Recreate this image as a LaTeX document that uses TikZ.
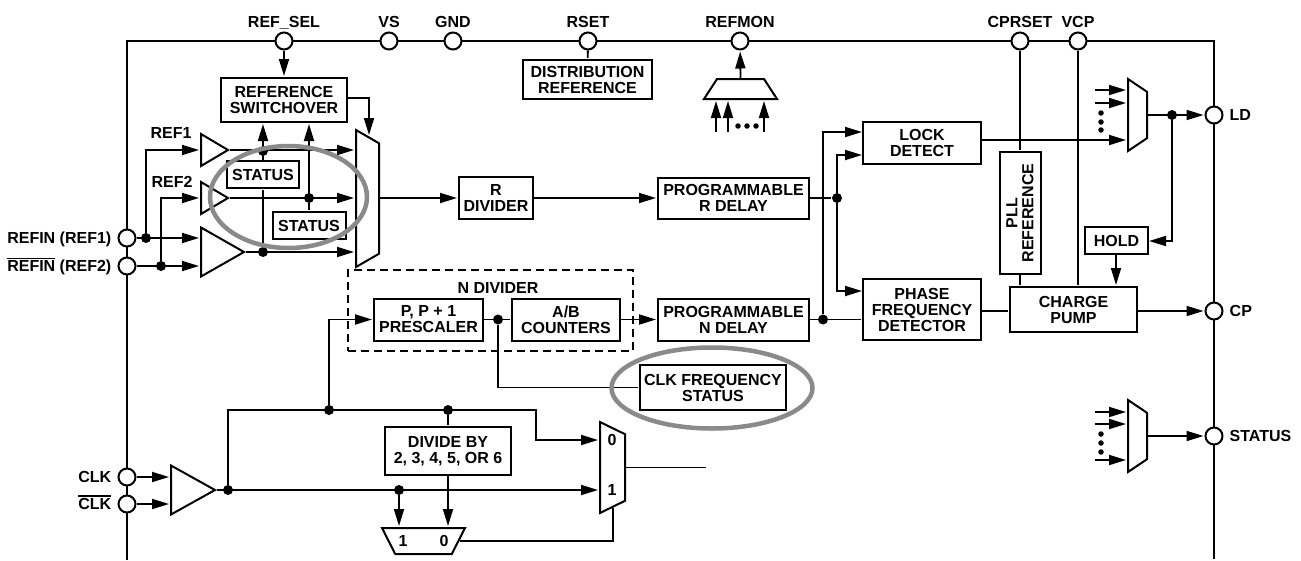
\documentclass[tikz,border=0pt]{standalone}
\usepackage{fontspec}
\setmainfont{Liberation Sans}
\usetikzlibrary{arrows.meta, positioning, shapes.geometric, calc}

\definecolor{ringgray}{HTML}{8A8A8A}
\newcommand{\barred}[1]{\vbox{\hrule height 1.2pt \kern 2pt \hbox{#1}}}

\tikzset{
  boxfont/.style={font=\bfseries\fontsize{16}{16}\selectfont},
  box/.style={draw, line width=2pt, boxfont, align=center, inner sep=0pt},
  txt/.style={boxfont, inner sep=0pt, text height=11.5pt, text depth=0pt},
  pad/.style={draw, circle, fill=white, line width=2pt, minimum size=17pt, inner sep=0pt},
  dot/.style={circle, fill=black, minimum size=10pt, inner sep=0pt},
  sdot/.style={circle, fill=black, minimum size=5.5pt, inner sep=0pt},
  amp/.style={draw, line width=2pt, isosceles triangle, isosceles triangle stretches,
              isosceles triangle apex angle=60, anchor=west, inner sep=0pt},
  mux/.style={draw, line width=2pt, trapezium, trapezium stretches body, inner sep=0pt},
  ring/.style={draw=ringgray, ellipse, line width=4.5pt, inner sep=0pt},
  wire/.style={line width=1.8pt}
}

\begin{document}
\begin{tikzpicture}[
    x=1pt, y=-1pt, >={Stealth[length=17pt, width=10pt, inset=0pt]},
    node distance=6pt, shorten >=1pt
  ]
  \useasboundingbox (0,0) rectangle (1301,560);

  % Chip outline
  \draw[line width=2.8pt] (127,560) -- (127,41) -- (1214,41) -- (1214,560);

  % Pads
  \foreach \n/\x in {pSel/284, pVs/389, pGnd/453, pRset/588, pMon/740, pCpr/1020, pVcp/1078} {
    \node[pad] (\n) at (\x,41) {};
  }
  \foreach \n/\y in {pRefA/238, pRefB/266, pClkA/477, pClkB/504} {
    \node[pad] (\n) at (127,\y) {};
  }
  \foreach \n/\y in {pLd/115, pCp/311, pStat/436} {
    \node[pad] (\n) at (1214,\y) {};
  }

  % Pad labels
  \node[txt, above=4pt of pSel] (lSel) {REF\_SEL};
  \node[txt, above=4pt of pVs] (lVs) {VS};
  \node[txt, above=4pt of pGnd] (lGnd) {GND};
  \node[txt, above=4pt of pRset] (lRset) {RSET};
  \node[txt, above=4pt of pMon] (lMon) {REFMON};
  \node[txt, above=4pt of pCpr] (lCpr) {CPRSET};
  \node[txt, above=4pt of pVcp] (lVcp) {VCP};
  \node[txt, left=6pt of pRefA] (lRefA) {REFIN (REF1)};
  \node[txt, left=6pt of pRefB] (lRefB) {\barred{REFIN} (REF2)};
  \node[txt, left=6pt of pClkA] (lClkA) {CLK};
  \node[txt, left=6pt of pClkB] (lClkB) {\barred{CLK}};
  \node[txt, right=6pt of pLd] (lLd) {LD};
  \node[txt, right=6pt of pCp] (lCp) {CP};
  \node[txt, right=6pt of pStat] (lStat) {STATUS};
  \node[txt] (lRefOne) at (171,133) {REF1};
  \node[txt] (lRefTwo) at (172,182) {REF2};

  % N divider frame
  \node[draw, dashed, dash pattern=on 8pt off 5pt, line width=1.8pt, minimum width=285pt,
        minimum height=81pt] (fNdiv) at (490.5,310.5) {};
  \node[txt] (lNdiv) at (498,288) {N DIVIDER};

  % Blocks
  \node[box, minimum width=126pt, minimum height=44pt] (bSwitch) at (284,100) {REFERENCE\\SWITCHOVER};
  \node[box, minimum width=72pt, minimum height=27pt] (bStatA) at (263,174.5) {STATUS};
  \node[box, minimum width=73pt, minimum height=27pt] (bStatB) at (309,225.5) {STATUS};
  \node[box, minimum width=129pt, minimum height=39pt] (bDist) at (587.5,79.5) {DISTRIBUTION\\REFERENCE};
  \node[box, minimum width=74pt, minimum height=42pt] (bRdiv) at (496,198) {R\\DIVIDER};
  \node[box, minimum width=151pt, minimum height=41pt] (bRdel) at (733.5,198) {PROGRAMMABLE\\R DELAY};
  \node[box, minimum width=151pt, minimum height=42pt] (bNdel) at (733.5,319.5) {PROGRAMMABLE\\N DELAY};
  \node[box, minimum width=109pt, minimum height=42pt] (bPres) at (428.5,319.5) {P, P + 1\\PRESCALER};
  \node[box, minimum width=108pt, minimum height=42pt] (bCnt) at (566,319.5) {A/B\\COUNTERS};
  \node[box, minimum width=146pt, minimum height=45pt] (bFreq) at (713,387.5) {CLK FREQUENCY\\STATUS};
  \node[box, minimum width=126pt, minimum height=48pt] (bDiv) at (448,451) {DIVIDE BY\\2, 3, 4, 5, OR 6};
  \node[box, minimum width=118pt, minimum height=42pt] (bLock) at (922,143) {LOCK\\DETECT};
  \node[box, minimum width=118pt, minimum height=61pt] (bPfd) at (922,309.5) {PHASE\\FREQUENCY\\DETECTOR};
  \node[box, rotate=90, minimum width=122pt, minimum height=41pt] (bPll) at (1020,213) {PLL\\REFERENCE};
  \node[box, minimum width=127pt, minimum height=45pt] (bCp) at (1073.5,309.5) {CHARGE\\PUMP};
  \node[box, minimum width=63pt, minimum height=27pt] (bHold) at (1116.5,240.5) {HOLD};

  % Input buffers
  \node[amp, minimum width=32pt, minimum height=27pt] (ampA) at (200,150) {};
  \node[amp, minimum width=32pt, minimum height=27pt] (ampB) at (200,198) {};
  \node[amp, minimum width=49pt, minimum height=43pt] (ampC) at (200,252) {};
  \node[amp, minimum width=49pt, minimum height=44pt] (ampD) at (170,490) {};

  % Multiplexers
  \node[mux, rotate=-90, trapezium left angle=60, trapezium right angle=60,
        minimum width=137pt, inner ysep=11.5pt] (muxM) at (367.5,198.5) {};
  \node[mux, trapezium left angle=57, trapezium right angle=57,
        minimum width=73pt, inner ysep=10pt] (muxR) at (740.5,89) {};
  \node[mux, rotate=-90, trapezium left angle=56, trapezium right angle=56,
        minimum width=72pt, inner ysep=9.5pt] (muxL) at (1137.5,115) {};
  \node[mux, rotate=-90, trapezium left angle=56, trapezium right angle=56,
        minimum width=72pt, inner ysep=9.5pt] (muxT) at (1137.5,436) {};
  \node[mux, rotate=-90, trapezium left angle=64, trapezium right angle=64,
        minimum width=91pt, inner ysep=12.5pt] (muxO) at (612.5,467.5) {};
  \node[mux, rotate=180, trapezium left angle=63, trapezium right angle=63,
        minimum width=83pt, inner ysep=13pt] (muxS) at (423.5,541) {};
  \node[txt] (lO0) at (612,440) {0};
  \node[txt] (lO1) at (612,490) {1};
  \node[txt] (lS1) at (403,541) {1};
  \node[txt] (lS0) at (444,541) {0};

  % Junctions
  \node[dot] (dRefA) at (146,238) {};
  \node[dot] (dRefB) at (161,266) {};
  \node[dot] (dAmpC) at (263,252) {};
  \node[dot] (dAmpA) at (263,151) {};
  \node[dot] (dAmpB) at (309,198) {};
  \node[dot] (dClk) at (228,490) {};
  \node[dot] (dUp) at (329,410) {};
  \node[dot] (dDiv) at (448,410) {};
  \node[dot] (dSel) at (399,490) {};
  \node[dot] (dFreq) at (498,319.5) {};
  \node[dot] (dN) at (823,319.5) {};
  \node[dot] (dR) at (837,198) {};
  \node[dot] (dLd) at (1172,115) {};

  % Free ends
  \coordinate (cSwIn) at (369,136);
  \coordinate (cSwOut) at (347,98);
  \coordinate (cTop) at (536,410);
  \coordinate (cMuxA) at (536,440);
  \coordinate (cOutEnd) at (707,467.5);
  \coordinate (cSelIn) at (613,507);
  \coordinate (cLockA) at (863,132);
  \coordinate (cLockB) at (863,155);
  \coordinate (cPfdA) at (863,291);
  \coordinate (cLockOut) at (981,140);
  \coordinate (cHold) at (1148,241);
  \coordinate (cPfdOut) at (981,311);
  \coordinate (cCpOut) at (1137,311);
  \coordinate (cHoldDn) at (1116,254);

  % Reference path
  \draw[wire, ->] (pSel) -- (bSwitch);
  \draw[wire, ->] (cSwOut) -| (cSwIn);
  \draw[wire, ->] (dRefA) |- (ampA.west);
  \draw[wire, ->] (dRefB) |- (ampB.west);
  \draw[wire, ->] (pRefA) -- (pRefA -| ampC.west);
  \draw[wire, ->] (pRefB) -- (pRefB -| ampC.west);
  \draw[wire, ->] (ampA.apex) -- (ampA.apex -| muxM.south);
  \draw[wire, ->] (ampB.apex) -- (ampB.apex -| muxM.south);
  \draw[wire, ->] (ampC.apex) -- (ampC.apex -| muxM.south);
  \draw[wire] (dAmpC) -- (bStatA);
  \draw[wire, ->] (bStatA.north) -- (bStatA.north |- bSwitch.south);
  \draw[wire, ->] (dAmpB) -- (dAmpB |- bSwitch.south);
  \draw[wire] (dAmpB) -- (bStatB);
  \draw[wire, ->] (muxM.north |- bRdiv) -- (bRdiv);
  \draw[wire, ->] (bRdiv) -- (bRdel);
  \draw[wire] (pRset) -- (bDist);
  \draw[wire, ->] (muxR.north) -- (pMon);
  \foreach \n/\x in {mA/716, mB/728, mC/764} {
    \coordinate (\n) at (\x,132);
    \draw[wire, ->] (\n) -- (\n |- muxR.south);
  }
  \foreach \n/\x in {mD/738, mE/747, mF/756} {
    \node[sdot] (\n) at (\x,126) {};
  }

  % Clock path
  \draw[wire, ->] (pClkA) -- (pClkA -| ampD.west);
  \draw[wire, ->] (pClkB) -- (pClkB -| ampD.west);
  \draw[wire, ->] (ampD.apex) -- (ampD.apex -| muxO.south);
  \draw[wire, ->] (dClk) |- (cTop) -- (cMuxA) -- (cMuxA -| muxO.south);
  \draw[wire, ->] (dUp) |- (bPres);
  \draw[wire] (dDiv) -- (bDiv);
  \draw[wire, ->] (bDiv) -- (bDiv |- muxS.south);
  \draw[wire, ->] (dSel) -- (dSel |- muxS.south);
  \draw[wire] (muxS.west) -| (cSelIn);
  \draw[wire] (muxO.north) -- (cOutEnd);
  \draw[wire] (bPres) -- (bCnt);
  \draw[wire, ->] (bCnt) -- (bNdel);
  \draw[wire] (dFreq) |- (bFreq);

  % Phase detector and outputs
  \draw[wire] (bNdel) -- (dN) -- (dN -| bPfd.west);
  \draw[wire, ->] (dN) |- (cLockA);
  \draw[wire] (bRdel) -- (dR);
  \draw[wire, ->] (dR) |- (cLockB);
  \draw[wire, ->] (dR) |- (cPfdA);
  \draw[wire] (cPfdOut) -- (cPfdOut -| bCp.west);
  \draw[wire] (pCpr) -- (bPll.east);
  \draw[wire] (bPll.west) -- (bPll.west |- bCp.north);
  \draw[wire] (pVcp) -- (pVcp |- bCp.north);
  \draw[wire, ->] (cLockOut) -- (cLockOut -| muxL.south);
  \draw[wire, ->] (muxL.north) -- (pLd);
  \draw[wire, ->] (dLd) |- (cHold);
  \draw[wire, ->] (cHoldDn) -- (cHoldDn |- bCp.north);
  \draw[wire, ->] (cCpOut) -- (pCp);
  \draw[wire, ->] (muxT.north) -- (pStat);

  % Stub inputs of the output muxes
  \foreach \n/\y in {sA/90, sB/103, sC/412, sD/424, sE/460} {
    \coordinate (\n) at (1095,\y);
    \draw[wire, ->] (\n) -- (\n -| muxL.south);
  }
  \foreach \n/\y in {tA/113, tB/122, tC/130, tD/434, tE/443, tF/452} {
    \node[sdot] (\n) at (1101,\y) {};
  }

  % Highlight rings
  \node[ring, minimum width=157pt, minimum height=102pt] (ringA) at (288.5,197) {};
  \node[ring, minimum width=201pt, minimum height=81pt] (ringB) at (712,388) {};
\end{tikzpicture}
\end{document}
